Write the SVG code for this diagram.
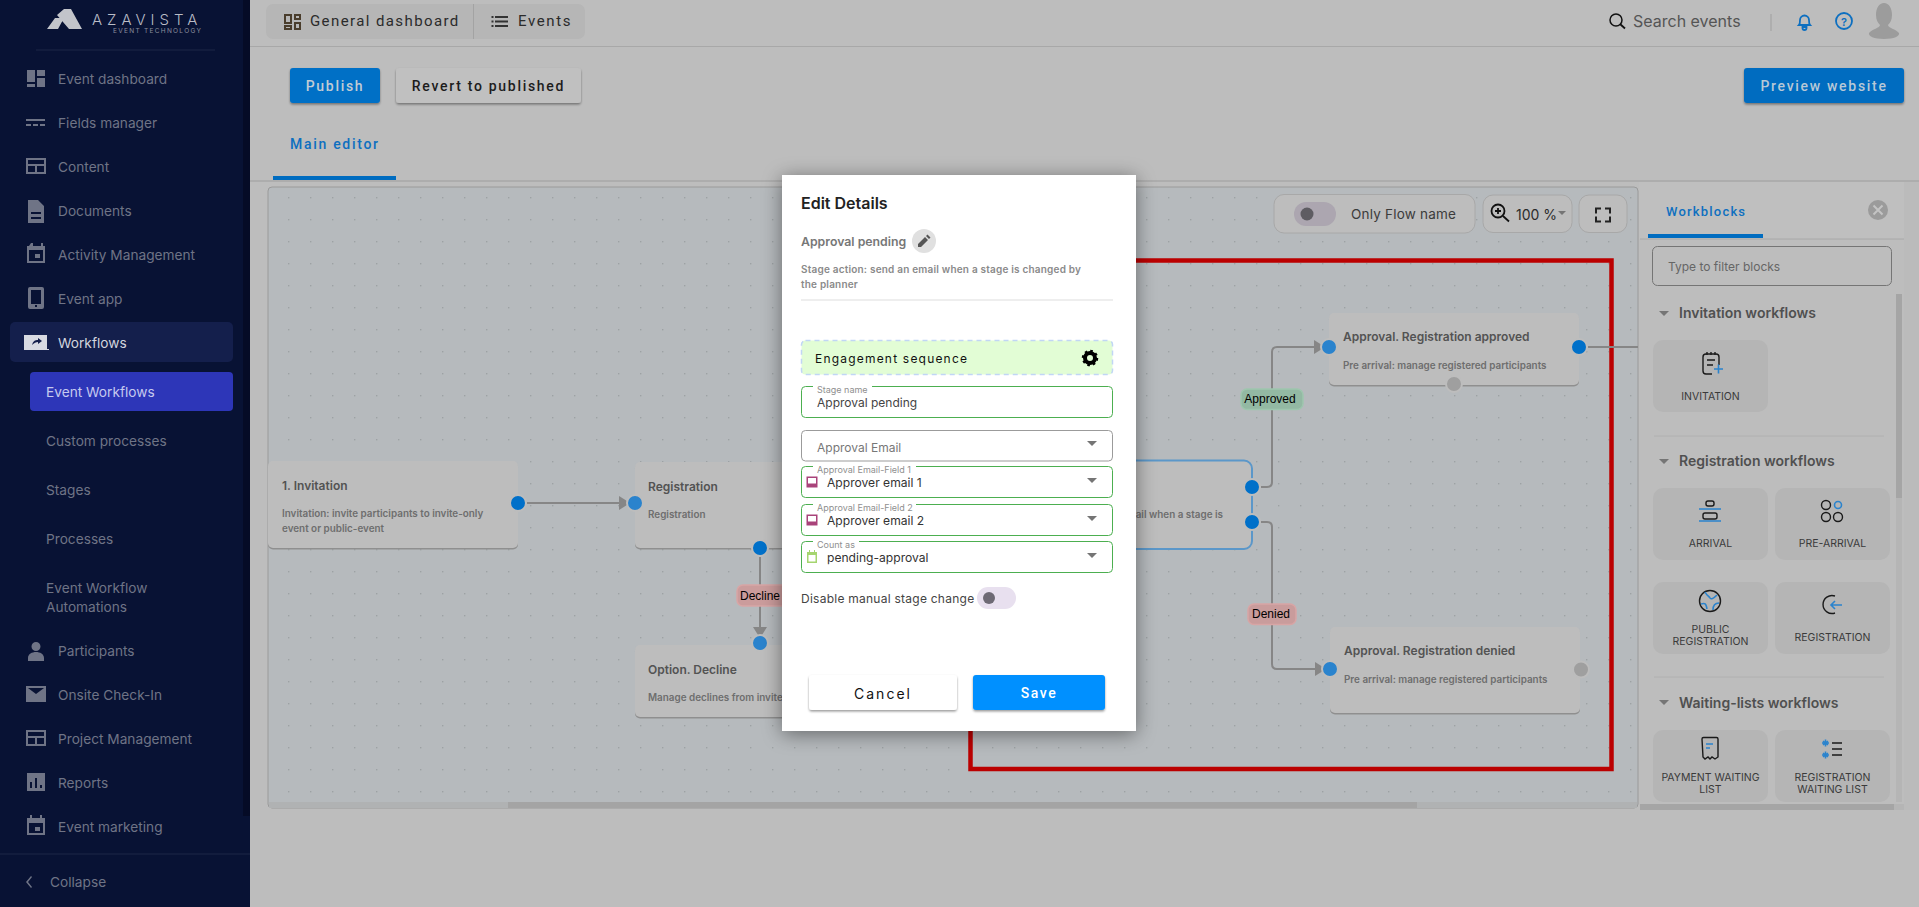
<svg xmlns="http://www.w3.org/2000/svg" width="1919" height="907" viewBox="0 0 1919 907">
<style>
text{font-family:"Inter","Liberation Sans",sans-serif;dominant-baseline:central}
.nav{font-size:13.7px;fill:#6f7486;transform:translateY(-.2px)}
.ic{fill:#6f7486}
.rb{font-family:"Roboto","Liberation Sans",sans-serif;font-weight:500;font-size:14px;letter-spacing:1.7px}
.nt{font-size:12px;font-weight:600;fill:#535353}
.nd{font-size:9.9px;font-weight:600;fill:#6e6e6e}
.pa{fill:#0070c9}.pb{fill:#2a83cd}.pg{fill:#9f9f9f}
.halo{stroke:#bdbdbd;stroke-width:2}
.con{fill:none;stroke:#868686;stroke-width:2}
.lab{font-family:"Liberation Sans",Arial,sans-serif;font-size:12px;fill:#000;text-anchor:middle}
.card{fill:#b5b5b5}
.cl{font-size:10.5px;fill:#3a3a3a;text-anchor:middle}
.h{font-size:14px;font-weight:600;fill:#505050}
.ik{fill:none;stroke:#1a1a1a;stroke-width:1.4}
.ib{fill:none;stroke:#2a83cd;stroke-width:1.6}
.fl{font-size:9px;fill:#8f8f8f}
.fv{font-size:12.1px;fill:#333}
.fb{fill:#fff;stroke:#4caf50;stroke-width:1}
.car{fill:#757575}
</style>
<defs>
<pattern id="dots" x="2" y="21" width="22" height="22" patternUnits="userSpaceOnUse"><rect x="0" y="0" width="1.4" height="1.4" fill="#9da1a4"/></pattern>
<marker id="arr" markerWidth="8" markerHeight="14" refX="8" refY="7" orient="auto" markerUnits="userSpaceOnUse"><path d="M0 0L8 5V9L0 14Z" fill="#868686"/></marker>
<filter id="mshadow" x="-20%" y="-20%" width="140%" height="140%"><feDropShadow dx="0" dy="3" stdDeviation="10" flood-color="#000" flood-opacity=".45"/></filter>
<filter id="bshadow" x="-10%" y="-20%" width="120%" height="150%"><feDropShadow dx="0" dy="1.5" stdDeviation="1.2" flood-color="#000" flood-opacity=".4"/></filter>
</defs>

<rect width="1919" height="907" fill="#bdbdbd"/>

<g id="sidebar">
<rect width="250" height="907" fill="#081234"/>
<rect x="243" y="0" width="7" height="816" fill="#050b26"/>
<path d="M47 29L55 18L64 18L58 29ZM57 15L64 9L71 9L82 29L69 29Z" fill="#c2c4ca"/>
<text x="92" y="19" font-size="15" letter-spacing="5" font-weight="300" fill="#b9bcc6">AZAVISTA</text>
<text x="113" y="31" font-size="6.5" letter-spacing="1.3" fill="#8b8f9e">EVENT TECHNOLOGY</text>
<line x1="36" y1="50" x2="215" y2="50" stroke="#1c2647"/>
<line x1="0" y1="854" x2="250" y2="854" stroke="#1c2647"/>
<rect x="10" y="322" width="223" height="40" rx="5" fill="#141f4c"/>
<rect x="30" y="372" width="203" height="39" rx="4" fill="#2d36b8"/>
<g class="ic">
<path d="M27 70h8v12h-8zM37 70h8v6h-8zM37 78h8v9h-8zM27 84h8v3h-8z"/>
<path d="M26 119h19v2h-19zM26 124h5v2h-5zM33 124h5v2h-5zM40 124h5v2h-5z"/>
<path fill-rule="evenodd" d="M26 158h20v16h-20zM28 160v4h16v-4zM28 166v6h7v-6zM37 166v6h7v-6z"/>
<path d="M28 200h10l6 6v17h-16zM31 212v2h10v-2zM31 217v2h10v-2z"/>
<path fill-rule="evenodd" d="M31 243h2v3h8v-3h2v3h2v17h-18v-17h2zM29 250v11h14v-11zM35 254h5v4h-5z"/>
<path fill-rule="evenodd" d="M30 287h12a2 2 0 0 1 2 2v18a2 2 0 0 1-2 2h-12a2 2 0 0 1-2-2v-18a2 2 0 0 1 2-2zM31 290v14h10v-14zM35 305h2v2h-2z"/>
</g>
<path d="M24 349V335h23v14h2v1H24z" fill="#d8dae2"/><path d="M32 345c1-4 3-5 6-5v-2l4 3-4 3v-2c-2 0-4 1-6 3z" fill="#141f4c"/>
<text class="nav" x="58" y="79">Event dashboard</text>
<text class="nav" x="58" y="123">Fields manager</text>
<text class="nav" x="58" y="167">Content</text>
<text class="nav" x="58" y="211">Documents</text>
<text class="nav" x="58" y="255">Activity Management</text>
<text class="nav" x="58" y="299">Event app</text>
<text class="nav" x="58" y="343" style="fill:#d3d5de">Workflows</text>
<text class="nav" x="46" y="392" style="fill:#c5c9ef">Event Workflows</text>
<text class="nav" x="46" y="441">Custom processes</text>
<text class="nav" x="46" y="490">Stages</text>
<text class="nav" x="46" y="539">Processes</text>
<text class="nav" x="46" y="588">Event Workflow</text>
<text class="nav" x="46" y="607">Automations</text>
<g class="ic">
<path d="M36 642a4.5 4.5 0 1 1 0 9a4.5 4.5 0 1 1 0-9zM28 658c0-4 4-6 8-6s8 2 8 6v3h-16z"/>
<path fill-rule="evenodd" d="M26 686h20v16h-20zM28 688l8 6l8-6z"/>
<path fill-rule="evenodd" d="M26 730h20v16h-20zM28 732v4h16v-4zM28 738v6h7v-6zM37 738v6h7v-6z"/>
<path fill-rule="evenodd" d="M27 773h18v18h-18zM30 782v6h2v-6zM35 778v10h2v-10zM40 785v3h2v-3z"/>
<path fill-rule="evenodd" d="M30 815h2v3h8v-3h2v3h3v17h-18v-17h3zM29 823v10h14v-10zM35 827h5v4h-5z"/>
<path d="M26 882l5-6 1 1-4 5 4 5-1 1z"/>
</g>
<text class="nav" x="58" y="651">Participants</text>
<text class="nav" x="58" y="695">Onsite Check-In</text>
<text class="nav" x="58" y="739">Project Management</text>
<text class="nav" x="58" y="783">Reports</text>
<text class="nav" x="58" y="827">Event marketing</text>
<text class="nav" x="50" y="882">Collapse</text>
</g>

<g id="topbar">
<line x1="250" y1="46.5" x2="1919" y2="46.5" stroke="#a8a8a8"/>
<rect x="266" y="4" width="319" height="35" rx="7" fill="#b6b6b6"/>
<line x1="473.500" y1="4" x2="473.500" y2="39" stroke="#a3a3a3"/>
<path fill="none" stroke="#4a3d2c" stroke-width="2" d="M285 15h6v8h-6zM295 15h5v4h-5zM295 23h5v6h-5zM285 26h6v3h-6z"/>
<path stroke="#333" stroke-width="2" d="M495 17h13M495 21.500h13M495 26h13M491.500 17h2M491.500 21.500h2M491.500 26h2"/>
<text x="310" y="21" style="font-family:Roboto,sans-serif;font-size:15px;letter-spacing:1.4px;fill:#2b2b2b">General dashboard</text>
<text x="518" y="21" style="font-family:Roboto,sans-serif;font-size:15px;letter-spacing:1.6px;fill:#2b2b2b">Events</text>
<circle cx="1616" cy="20" r="6" fill="none" stroke="#111" stroke-width="1.5"/><line x1="1620" y1="24" x2="1625" y2="28.500" stroke="#111" stroke-width="1.800"/>
<text x="1633" y="21" font-size="16" fill="#555">Search events</text>
<line x1="1771" y1="14" x2="1771" y2="31" stroke="#aaa" stroke-width="1.500"/>
<path d="M1799 25c1-1 1-2 1-5a4.500 4.500 0 0 1 9 0c0 3 0 4 1 5zM1802.500 27h4v1a2 2 0 0 1-4 0z" fill="none" stroke="#0d6fc0" stroke-width="1.800"/>
<circle cx="1844" cy="21" r="8" fill="none" stroke="#0d6fc0" stroke-width="1.800"/>
<text x="1844" y="21.500" font-size="11" font-weight="600" text-anchor="middle" fill="#0d6fc0">?</text>
<path d="M1884 3c5 0 8 5 8 12 0 5-2 8-4 10 0 3 8 4 11 8 1 3-5 6-15 6s-16-3-15-6c3-4 11-5 11-8-2-2-4-5-4-10 0-7 3-12 8-12z" fill="#9c9c9c"/>
</g>

<g id="actions">
<rect x="290" y="68" width="90" height="35" rx="3" fill="#0070c6" filter="url(#bshadow)"/>
<text class="rb" x="335" y="86" text-anchor="middle" fill="#c2ccd4">Publish</text>
<rect x="396" y="68" width="185" height="35" rx="3" fill="#c0c0c0" filter="url(#bshadow)"/>
<text class="rb" x="488.500" y="86" text-anchor="middle" fill="#1c1c1c">Revert to published</text>
<rect x="1744" y="68" width="160" height="35" rx="3" fill="#006cc0" filter="url(#bshadow)"/>
<text class="rb" x="1824" y="86" text-anchor="middle" fill="#b8c8d6">Preview website</text>
<text class="rb" x="290" y="144" fill="#0d6fc0">Main editor</text>
<rect x="273" y="176" width="123" height="4" fill="#006cc0"/>
<line x1="250" y1="181" x2="1919" y2="181" stroke="#a8a8a8" stroke-width="1.500"/>
</g>

<g id="canvas">
<rect x="268" y="187" width="1370" height="621" rx="4" fill="#b6babd" stroke="#9a9a9a"/>
<rect x="269" y="188" width="1368" height="614" fill="url(#dots)"/>
<rect x="269" y="802" width="1368" height="6" fill="#b0b2b3"/>
<rect x="508" y="802" width="909" height="6" fill="#a4a4a4"/>
</g>

<rect id="red-frame" x="970.500" y="260.500" width="641" height="508.500" fill="none" stroke="#bb0000" stroke-width="4.500"/>

<g id="connectors">
<path class="con" d="M527 503H627" marker-end="url(#arr)"/>
<path class="con" d="M769 548H790"/>
<path class="con" d="M760 557V635" marker-end="url(#arr)"/>
<path class="con" d="M1261 487H1267Q1272 487 1272 482V352Q1272 347 1277 347H1322" marker-end="url(#arr)"/>
<path class="con" d="M1261 522H1267Q1272 522 1272 527V664Q1272 669 1277 669H1323" marker-end="url(#arr)"/>
<path class="con" d="M1588 347H1638"/>
</g>

<g id="node-invitation">
<rect x="268" y="461" width="250" height="87" rx="5" fill="#8f8f8f" transform="translate(0 1.500)"/>
<rect x="268" y="461" width="250" height="87" rx="5" fill="#bdbdbd"/>
<text class="nt" x="282" y="485">1. Invitation</text>
<text class="nd" x="282" y="513">Invitation: invite participants to invite-only</text>
<text class="nd" x="282" y="528">event or public-event</text>
<circle class="pa halo" cx="518" cy="503" r="8"/>
</g>
<g id="node-registration">
<rect x="635" y="462" width="250" height="86" rx="5" fill="#8f8f8f" transform="translate(0 1.500)"/>
<rect x="635" y="462" width="250" height="86" rx="5" fill="#bdbdbd"/>
<text class="nt" x="648" y="486">Registration</text>
<text class="nd" x="648" y="514">Registration</text>
<circle class="pb halo" cx="635" cy="503" r="8"/>
<circle class="pa halo" cx="760" cy="548" r="8"/>
</g>
<g id="node-decline">
<rect x="635" y="645" width="250" height="72" rx="5" fill="#8f8f8f" transform="translate(0 1.500)"/>
<rect x="635" y="645" width="250" height="72" rx="5" fill="#bdbdbd"/>
<text class="nt" x="648" y="669">Option. Decline</text>
<text class="nd" x="648" y="697">Manage declines from invite</text>
<circle class="pb halo" cx="760" cy="643" r="8"/>
</g>
<g id="node-approval-pending">
<rect x="1000" y="460.500" width="252" height="88.500" rx="8" fill="#bdbdbd" stroke="#5b97c9" stroke-width="2"/>
<text class="nd" x="1223" y="513.500" text-anchor="end">ail when a stage is</text>
<circle class="pa halo" cx="1252" cy="487" r="8"/>
<circle class="pa halo" cx="1252" cy="522" r="8"/>
</g>
<g id="node-approved">
<rect x="1329" y="313" width="250" height="72" rx="5" fill="#8f8f8f" transform="translate(0 1.500)"/>
<rect x="1329" y="313" width="250" height="72" rx="5" fill="#bdbdbd"/>
<text class="nt" x="1343" y="336.500">Approval. Registration approved</text>
<text class="nd" x="1343" y="364.500">Pre arrival: manage registered participants</text>
<circle class="pb halo" cx="1329" cy="347" r="8"/>
<circle class="pa halo" cx="1579" cy="347" r="8"/>
<circle class="pg halo" cx="1454" cy="384" r="8"/>
</g>
<g id="node-denied">
<rect x="1330" y="627" width="250" height="86" rx="5" fill="#8f8f8f" transform="translate(0 1.500)"/>
<rect x="1330" y="627" width="250" height="86" rx="5" fill="#bdbdbd"/>
<text class="nt" x="1344" y="650.500">Approval. Registration denied</text>
<text class="nd" x="1344" y="678.500">Pre arrival: manage registered participants</text>
<circle class="pb halo" cx="1330" cy="669" r="8"/>
<circle class="pg halo" cx="1581" cy="669.500" r="8"/>
</g>
<g id="edge-labels">
<rect x="737" y="585" width="60" height="21" rx="6" fill="#cb9c9c" stroke="#d8a5a5" stroke-width="1.500"/>
<text class="lab" x="760" y="595.500">Decline</text>
<rect x="1241" y="389" width="62" height="20.500" rx="6" fill="#93b9a3" stroke="#9ec6ae" stroke-width="1.500"/>
<text class="lab" x="1270" y="399">Approved</text>
<rect x="1248" y="604" width="48" height="20.500" rx="6" fill="#c99c9c" stroke="#d8a5a5" stroke-width="1.500"/>
<text class="lab" x="1271" y="614">Denied</text>
</g>

<g id="canvas-controls">
<rect x="1274" y="194.500" width="201" height="38.500" rx="10" fill="#bdbdbd" stroke="#a8a8a8"/>
<rect x="1294" y="202" width="42" height="24" rx="12" fill="#aca6b0"/>
<circle cx="1307" cy="214" r="6.500" fill="#5e5c62"/>
<text x="1351" y="214" font-size="13.500" letter-spacing=".2" fill="#3b3b3b">Only Flow name</text>
<rect x="1483" y="195" width="89" height="37.500" rx="10" fill="#bdbdbd" stroke="#a8a8a8"/>
<circle cx="1498" cy="211" r="6.500" fill="none" stroke="#111" stroke-width="1.800"/><path d="M1503 216l6 5.500M1495 211h6M1498 208v6" stroke="#111" stroke-width="1.800"/>
<text x="1516" y="214" font-size="14" fill="#2b2b2b">100 %</text>
<path class="car" d="M1558 211h8l-4 4z"/>
<rect x="1579" y="195" width="48" height="37.500" rx="10" fill="#bdbdbd" stroke="#a8a8a8"/>
<path d="M1596 213.500v-5h5M1605 208.500h5v5M1610 216.500v5h-5M1601 221.500h-5v-5" fill="none" stroke="#222" stroke-width="2"/>
</g>

<g id="workblocks">
<rect x="1639" y="182" width="265" height="628" fill="#bdbdbd"/>
<rect x="1904" y="182" width="15" height="628" fill="#bbbbbb"/>
<rect x="1639" y="182" width="265" height="57" fill="#bfbfbf"/>
<text x="1666" y="211" style="font-family:Roboto,sans-serif;font-size:13px;font-weight:500;letter-spacing:1.200px" fill="#0d6fc0">Workblocks</text>
<rect x="1648" y="234" width="115" height="4" fill="#006cc0"/>
<line x1="1640" y1="239" x2="1904" y2="239" stroke="#a8a8a8"/>
<circle cx="1878" cy="210" r="10" fill="#9b9b9b"/><path d="M1873.500 205.500l9 9M1882.500 205.500l-9 9" stroke="#c4c4c4" stroke-width="2"/>
<rect x="1652.500" y="246.500" width="239" height="39" rx="5" fill="none" stroke="#757575"/>
<text x="1668" y="266" font-size="12" fill="#666">Type to filter blocks</text>
<rect x="1896" y="294" width="6" height="508" fill="#b5b5b5"/>
<rect x="1896" y="294" width="6" height="204" fill="#a5a5a5"/>
<rect x="1640" y="804" width="264" height="6" fill="#b5b5b5"/>
<rect x="1640" y="804" width="254" height="6" fill="#a5a5a5"/>
<path class="car" d="M1659 311h10l-5 5z"/><text class="h" x="1679" y="312">Invitation workflows</text>
<line x1="1654" y1="436" x2="1884" y2="436" stroke="#b0b0b0"/>
<path class="car" d="M1659 459h10l-5 5z"/><text class="h" x="1679" y="460">Registration workflows</text>
<line x1="1654" y1="677" x2="1884" y2="677" stroke="#b0b0b0"/>
<path class="car" d="M1659 700h10l-5 5z"/><text class="h" x="1679" y="702">Waiting-lists workflows</text>

<g id="block-invitation"><rect class="card" x="1653" y="340" width="115" height="72" rx="10"/>
<path class="ik" d="M1712 374h-6a3 3 0 0 1-3-3v-14a3 3 0 0 1 3-3h10a3 3 0 0 1 3 3v8M1707 352v3M1711 352v3M1715 352v3M1707 360h8M1707 365h6"/><path class="ib" d="M1714 369h9M1718.500 364.500v9"/>
<text class="cl" x="1710.500" y="396">INVITATION</text></g>
<g id="block-arrival"><rect class="card" x="1653" y="488" width="115" height="72" rx="10"/>
<rect class="ik" x="1706" y="501" width="8" height="5" rx="2"/><rect class="ik" x="1703" y="513" width="14" height="6" rx="2"/><path class="ib" d="M1699 509h22M1699 521h22"/>
<text class="cl" x="1710.500" y="543">ARRIVAL</text></g>
<g id="block-pre-arrival"><rect class="card" x="1775" y="488" width="115" height="72" rx="10"/>
<circle class="ik" cx="1826" cy="505" r="4.500"/><circle class="ik" cx="1826" cy="517" r="4.500"/><circle class="ik" cx="1838" cy="517" r="4.500"/><circle class="ib" cx="1838" cy="505" r="3.500"/>
<text class="cl" x="1832.500" y="543">PRE-ARRIVAL</text></g>
<g id="block-public"><rect class="card" x="1653" y="582" width="115" height="72" rx="10"/>
<circle class="ik" cx="1710" cy="601" r="10.500"/><path class="ib" d="M1705 592c2 4 4 4 5 6s4 0 7-3M1701 604c4-1 5-1 6 5M1719 603c-4 0-6 2-6 7"/>
<text class="cl" x="1710.500" y="629">PUBLIC</text><text class="cl" x="1710.500" y="641">REGISTRATION</text></g>
<g id="block-registration"><rect class="card" x="1775" y="582" width="115" height="72" rx="10"/>
<path class="ik" d="M1835 596a9 9 0 1 0 0 17"/><path class="ib" d="M1842 605h-10M1835 601l-4 4 4 4"/>
<text class="cl" x="1832.500" y="637">REGISTRATION</text></g>
<g id="block-payment"><rect class="card" x="1653" y="730" width="115" height="72" rx="10"/>
<path class="ik" d="M1702 739a1.500 1.500 0 0 1 1.500-1.500h13a1.500 1.500 0 0 1 1.500 1.500v18l-3 2-3-2-2 2-2-2-3 2-2-2z"/><path class="ib" d="M1706 744h7M1706 748h4"/>
<text class="cl" x="1710.500" y="777">PAYMENT WAITING</text><text class="cl" x="1710.500" y="789">LIST</text></g>
<g id="block-reg-waiting"><rect class="card" x="1775" y="730" width="115" height="72" rx="10"/>
<path class="ib" d="M1822 743h7M1825.500 739.500v7M1823 741l5 4M1828 741l-5 4M1822 755h7M1825.500 751.500v7M1823 753l5 4M1828 753l-5 4"/><path class="ik" d="M1832 743h10M1832 749h10M1832 755h10"/>
<text class="cl" x="1832.500" y="777">REGISTRATION</text><text class="cl" x="1832.500" y="789">WAITING LIST</text></g>
</g>

<g id="modal">
<rect x="782" y="175" width="354" height="556" fill="#fff" filter="url(#mshadow)"/>
<text x="801" y="203" font-size="16" font-weight="600" fill="#222">Edit Details</text>
<text x="801" y="241" font-size="12.300" font-weight="600" fill="#777">Approval pending</text>
<circle cx="924" cy="241" r="12" fill="#e0e0e0"/><path d="M918 247v-3l7-7 3 3-7 7zM926 236l1.500-1.500 3 3-1.500 1.500z" fill="#555"/>
<text x="801" y="269" font-size="10" font-weight="600" letter-spacing=".2" fill="#8a8a8a">Stage action: send an email when a stage is changed by</text>
<text x="801" y="284" font-size="10" font-weight="600" letter-spacing=".2" fill="#8a8a8a">the planner</text>
<line x1="801" y1="300" x2="1113" y2="300" stroke="#ddd"/>
<g id="engagement">
<rect x="801.500" y="340.500" width="311" height="34" rx="4" fill="#e2fdd5" stroke="#c1d6f5" stroke-width="1.500" stroke-dasharray="5 4"/>
<text x="815" y="358" font-size="12" letter-spacing="1.200" fill="#111">Engagement sequence</text>
<circle cx="1090" cy="358" r="5" fill="none" stroke="#000" stroke-width="4"/><circle cx="1090" cy="358" r="7" fill="none" stroke="#000" stroke-width="2.500" stroke-dasharray="2.500 3"/>
</g>
<g id="field-stage-name">
<rect class="fb" x="801.500" y="386.500" width="311" height="31" rx="4"/><rect x="813" y="384" width="59" height="5" fill="#fff"/>
<text class="fl" x="817" y="389">Stage name</text><text x="817" y="402" font-size="12" fill="#444">Approval pending</text>
</g>
<g id="field-approval-email">
<rect x="801.500" y="430.500" width="311" height="30.500" rx="4" fill="#fff" stroke="#9b9b9b"/>
<text x="817" y="447" font-size="12" fill="#777">Approval Email</text><path class="car" d="M1087 441h10l-5 5z"/>
</g>
<g id="field-1">
<rect class="fb" x="801.500" y="466.500" width="311" height="31" rx="4"/><rect x="813" y="464" width="103" height="5" fill="#fff"/>
<text class="fl" x="817" y="469">Approval Email-Field 1</text>
<path fill-rule="evenodd" d="M806.500 476.500h11v11h-11zM808 478v5.500h8v-5.500z" fill="#a9437a"/>
<text class="fv" x="827" y="482">Approver email 1</text><path class="car" d="M1087 478h10l-5 5z"/>
</g>
<g id="field-2">
<rect class="fb" x="801.500" y="504.500" width="311" height="31" rx="4"/><rect x="813" y="502" width="103" height="5" fill="#fff"/>
<text class="fl" x="817" y="507">Approval Email-Field 2</text>
<path fill-rule="evenodd" d="M806.500 514.500h11v11h-11zM808 516v5.500h8v-5.500z" fill="#a9437a"/>
<text class="fv" x="827" y="520">Approver email 2</text><path class="car" d="M1087 516h10l-5 5z"/>
</g>
<g id="field-count">
<rect class="fb" x="801.500" y="541.500" width="311" height="31" rx="4"/><rect x="813" y="539" width="46" height="5" fill="#fff"/>
<text class="fl" x="817" y="544">Count as</text>
<path fill-rule="evenodd" d="M807 552h2v-2h1v2h4v-2h1v2h2v11h-10zM808.500 555v6.500h7v-6.500z" fill="#a5d56f"/>
<text class="fv" x="827" y="557">pending-approval</text><path class="car" d="M1087 553h10l-5 5z"/>
</g>
<text x="801" y="598" font-size="12" letter-spacing=".25" fill="#444">Disable manual stage change</text>
<rect x="977" y="587" width="39" height="22" rx="11" fill="#e8e0ef"/><circle cx="989" cy="598" r="6" fill="#6e6a75"/>
<rect x="809" y="675" width="148" height="35" rx="3" fill="#fff" filter="url(#bshadow)"/>
<text x="883" y="693" text-anchor="middle" font-size="14" fill="#111" letter-spacing="2">Cancel</text>
<rect x="973" y="675" width="132" height="35" rx="3" fill="#0090ff" filter="url(#bshadow)"/>
<text class="rb" x="1039" y="693" text-anchor="middle" fill="#fff" style="letter-spacing:1.500px">Save</text>
</g>
</svg>
